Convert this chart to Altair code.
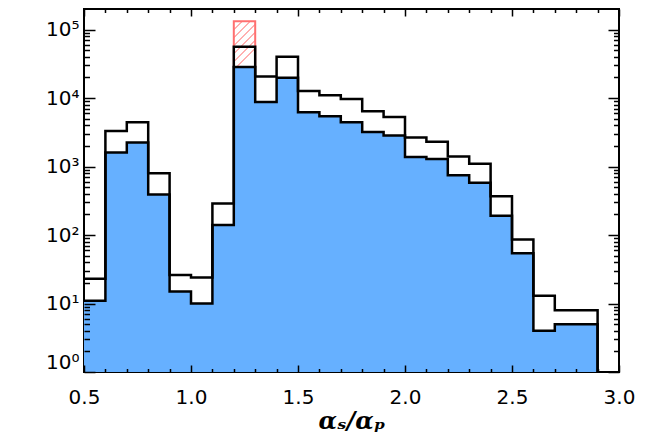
import altair as alt
import pandas as pd

# ---- data -------------------------------------------------------------------
bin_lo = [0.5, 0.6, 0.7, 0.8, 0.9, 1.0, 1.1, 1.2, 1.3, 1.4, 1.5, 1.6,
          1.7, 1.8, 1.9, 2.0, 2.1, 2.2, 2.3, 2.4, 2.5, 2.6, 2.7, 2.8]
bin_hi = [0.6, 0.7, 0.8, 0.9, 1.0, 1.1, 1.2, 1.3, 1.4, 1.5, 1.6, 1.7,
          1.8, 1.9, 2.0, 2.1, 2.2, 2.3, 2.4, 2.5, 2.6, 2.7, 2.8, 2.9]
blue_counts = [11, 1600, 2250, 390, 15, 10, 140, 28500, 8800, 19800, 6200, 5450,
               4450, 3200, 2850, 1380, 1290, 745, 580, 192, 54, 4, 5, 5]
total_counts = [23, 3300, 4450, 800, 26, 24, 290, 56000, 20700, 40000, 12700, 11000,
                9700, 6450, 5300, 2650, 2300, 1400, 1100, 368, 86, 13, 8, 8]
hatch_lo = [1.2]
hatch_hi = [1.3]
hatch_bottom = [28500]
hatch_top = [133000]

x_major = [0.5, 1.0, 1.5, 2.0, 2.5, 3.0]
x_minor = [0.6, 0.7, 0.8, 0.9, 1.1, 1.2, 1.3, 1.4, 1.6, 1.7, 1.8, 1.9,
           2.1, 2.2, 2.3, 2.4, 2.6, 2.7, 2.8, 2.9]
y_major = [1, 10, 100, 1000, 10000, 100000]
y_minor = [m * d for d in [1, 10, 100, 1000, 10000, 100000]
           for m in [2, 3, 4, 5, 6, 7, 8, 9] if m * d < 200000]
Y_MIN, Y_MAX = 1, 200000
X_MIN, X_MAX = 0.5, 3.0

BLUE = "#66b0ff"
RED = "#ff7070"
PINK = "#ffb0b0"

# ---- tables -----------------------------------------------------------------
blue_step = pd.DataFrame({"x": bin_lo + [bin_hi[-1]], "v": blue_counts + [Y_MIN],
                          "base": [Y_MIN] * (len(bin_lo) + 1)})
total_step = pd.DataFrame({"x": bin_lo + [bin_hi[-1]], "v": total_counts + [Y_MIN]})
hatch = pd.DataFrame({"lo": hatch_lo, "hi": hatch_hi,
                      "bottom": hatch_bottom, "top": hatch_top})

xs = alt.Scale(domain=[X_MIN, X_MAX], nice=False, zero=False)
ys = alt.Scale(type="log", domain=[Y_MIN, Y_MAX], nice=False)

common = dict(domain=False, grid=False, tickColor="black", tickWidth=1.5, zindex=2)


def minor_axis(orient, values, size):
    return alt.Axis(orient=orient, values=values, tickSize=size, offset=-size,
                    labels=False, title=None, **common)


x_bottom_major = alt.Axis(
    orient="bottom", values=x_major, format=".1f", tickSize=7, offset=-7,
    labelFont="DejaVu Sans", labelFontSize=20, labelColor="black",
    labelPadding=15, labelFlush=False, labelOverlap=False,
    title="αₛ/αₚ", titleFont="DejaVu Serif", titleFontSize=24,
    titleFontStyle="italic", titleFontWeight="bold", titleColor="black",
    titlePadding=2, **common)
y_left_major = alt.Axis(
    orient="left", values=y_major, tickSize=11, offset=-11,
    labelExpr="'10' + ['⁰','¹','²','³','⁴','⁵'][round(log(datum.value)/LN10)]",
    labelFont="DejaVu Sans", labelFontSize=20, labelColor="black",
    labelPadding=5, labelFlush=True, labelOverlap=False, title=None, **common)

fill_layer = alt.Chart(blue_step).mark_area(
    interpolate="step-after", color=BLUE, opacity=1
).encode(
    x=alt.X("x:Q", scale=xs, axis=x_bottom_major),
    y=alt.Y("v:Q", scale=ys, axis=y_left_major),
    y2="base:Q",
)

stops = []
n_stripes = 7
for i in range(n_stripes):
    a = i / n_stripes
    stops += [alt.GradientStop(offset=a, color=PINK),
              alt.GradientStop(offset=a + 0.03, color=PINK),
              alt.GradientStop(offset=a + 0.03, color="white"),
              alt.GradientStop(offset=(i + 1) / n_stripes, color="white")]
hatch_fill = alt.LinearGradient(gradient="linear", stops=stops,
                                x1=0, y1=0, x2=0.47, y2=1)

hatch_layer = alt.Chart(hatch).mark_bar(
    fill=hatch_fill, stroke=RED, strokeWidth=2
).encode(
    x=alt.X("lo:Q", scale=xs, axis=minor_axis("bottom", x_minor, 3.5)),
    x2="hi:Q",
    y=alt.Y("top:Q", scale=ys, axis=minor_axis("left", y_minor, 5.5)),
    y2="bottom:Q",
)

total_layer = alt.Chart(total_step).mark_line(
    interpolate="step-after", color="black", strokeWidth=2.5
).encode(
    x=alt.X("x:Q", scale=xs, axis=alt.Axis(orient="top", values=x_major, tickSize=7,
                                           offset=-7, labels=False, title=None, **common)),
    y=alt.Y("v:Q", scale=ys, axis=alt.Axis(orient="right", values=y_major, tickSize=11,
                                           offset=-11, labels=False, title=None, **common)),
)

blue_layer = alt.Chart(blue_step).mark_line(
    interpolate="step-after", color="black", strokeWidth=2.5
).encode(
    x=alt.X("x:Q", scale=xs, axis=minor_axis("top", x_minor, 3.5)),
    y=alt.Y("v:Q", scale=ys, axis=minor_axis("right", y_minor, 5.5)),
)

chart = alt.layer(fill_layer, hatch_layer, total_layer, blue_layer).resolve_axis(
    x="independent", y="independent"
).properties(
    width=535, height=363,
    autosize=alt.AutoSizeParams(type="none"),
    padding={"left": 76, "top": 1, "right": 41, "bottom": 65},
    background="white",
).configure_view(stroke="black", strokeWidth=2)

chart.save("out.html", embed_options={"renderer": "svg", "actions": False})
